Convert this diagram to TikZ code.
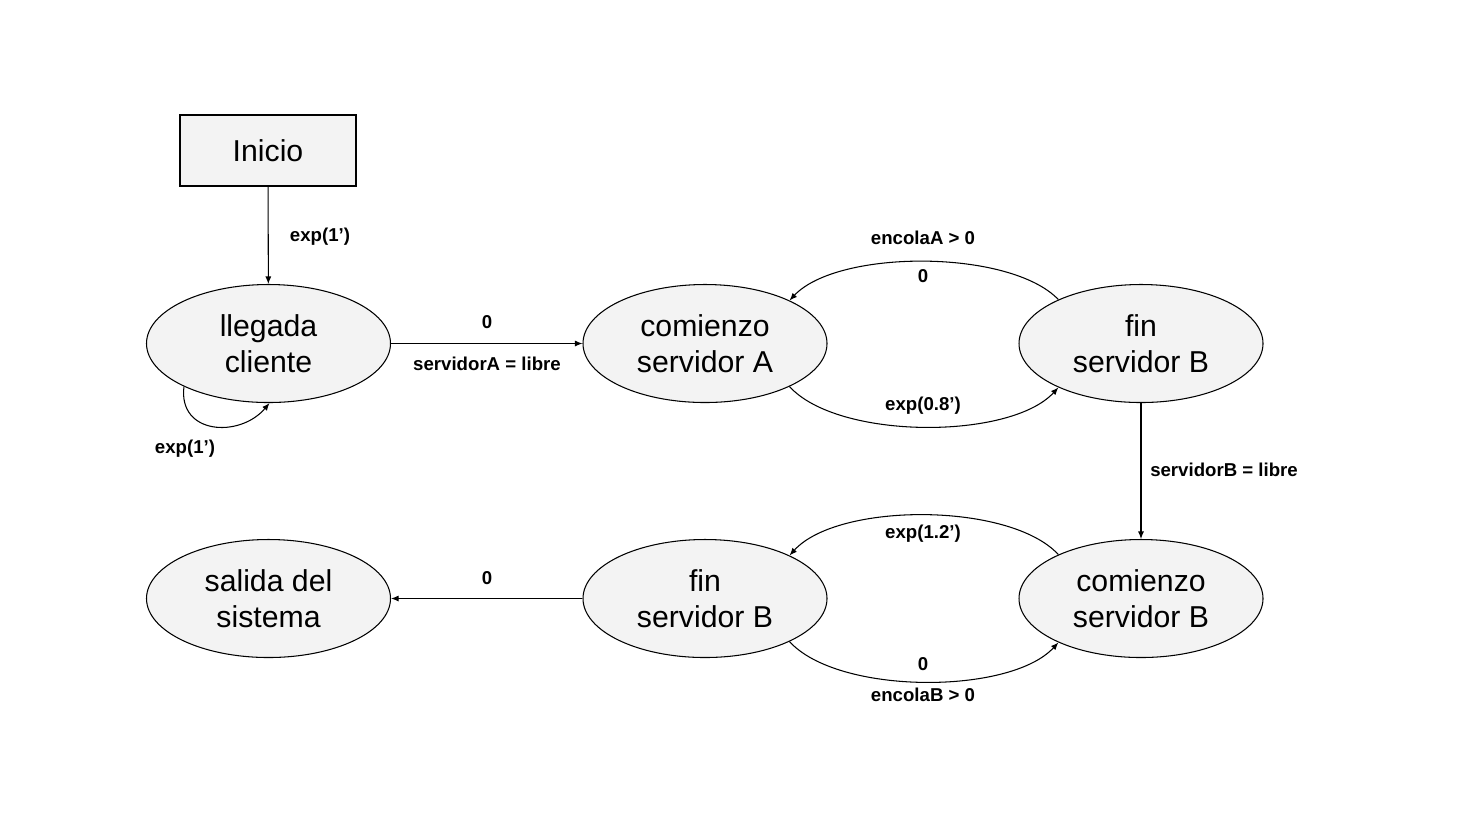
\documentclass[tikz,border=0pt]{standalone}
\usepackage{fontspec}
\setmainfont{Liberation Sans}
\usetikzlibrary{shapes.geometric,arrows.meta}
\definecolor{grisnodo}{RGB}{243,243,243}
\begin{document}
\begin{tikzpicture}[
  estado/.style={ellipse, draw, fill=grisnodo, line width=0.3pt, minimum width=2.44cm, minimum height=1.18cm, inner sep=0pt, align=center, font=\fontsize{8.6}{10.4}\selectfont},
  flecha/.style={-{Latex[length=0.75mm,width=0.6mm]}, line width=0.3pt},
  etiqueta/.style={font=\fontsize{5.3}{6.4}\selectfont\bfseries, inner sep=0pt}
]
\useasboundingbox (0,0) rectangle (14.67,-8.19);

% El nodo de inicio es una caja, los demas son elipses grises
\node[draw, fill=grisnodo, line width=0.3pt, minimum width=1.76cm, minimum height=0.71cm, inner sep=0pt, font=\fontsize{8.6}{10.4}\selectfont] (inicio) at (2.68,-1.505) {Inicio};
\node[estado] (llegada) at (2.685,-3.435) {llegada\\cliente};
\node[estado] (comA) at (7.05,-3.435) {comienzo\\servidor A};
\node[estado] (finA) at (11.41,-3.435) {fin\\servidor B};
\node[estado] (salida) at (2.685,-5.985) {salida del\\sistema};
\node[estado] (finB) at (7.05,-5.985) {fin\\servidor B};
\node[estado] (comB) at (11.41,-5.985) {comienzo\\servidor B};

% Flechas rectas
\draw[flecha] (inicio) -- (llegada);
\draw[flecha] (llegada) -- (comA);
\draw[flecha] (finA) -- (comB);
\draw[flecha] (finB) -- (salida);

% Flechas curvas entre los servidores
\draw[flecha] (finA.152) .. controls (10.1,-2.49) and (8.38,-2.49) .. (comA.27);
\draw[flecha] (comA.-27) .. controls (8.38,-4.4) and (10.1,-4.4) .. (finA.-152);
\draw[flecha] (comB.152) .. controls (10.1,-5.02) and (8.38,-5.02) .. (finB.27);
\draw[flecha] (finB.-27) .. controls (8.38,-6.95) and (10.1,-6.95) .. (comB.-152);

% Y el bucle de las llegadas
\draw[flecha] (llegada.207) .. controls (1.78,-4.35) and (2.4,-4.38) .. (llegada.271);

% Etiquetas
\node[etiqueta] (e1) at (3.2,-2.37) {exp(1’)};
\node[etiqueta] (e2) at (1.85,-4.49) {exp(1’)};
\node[etiqueta] (e3) at (4.87,-3.22) {0};
\node[etiqueta] (e4) at (4.87,-3.64) {servidorA = libre};
\node[etiqueta] (e5) at (9.23,-2.38) {encolaA > 0};
\node[etiqueta] (e6) at (9.23,-2.76) {0};
\node[etiqueta] (e7) at (9.23,-4.06) {exp(0.8’)};
\node[etiqueta] (e8) at (12.24,-4.70) {servidorB = libre};
\node[etiqueta] (e9) at (9.23,-5.34) {exp(1.2’)};
\node[etiqueta] (e10) at (9.23,-6.64) {0};
\node[etiqueta] (e11) at (9.23,-6.95) {encolaB > 0};
\node[etiqueta] (e12) at (4.87,-5.78) {0};
\end{tikzpicture}
\end{document}
